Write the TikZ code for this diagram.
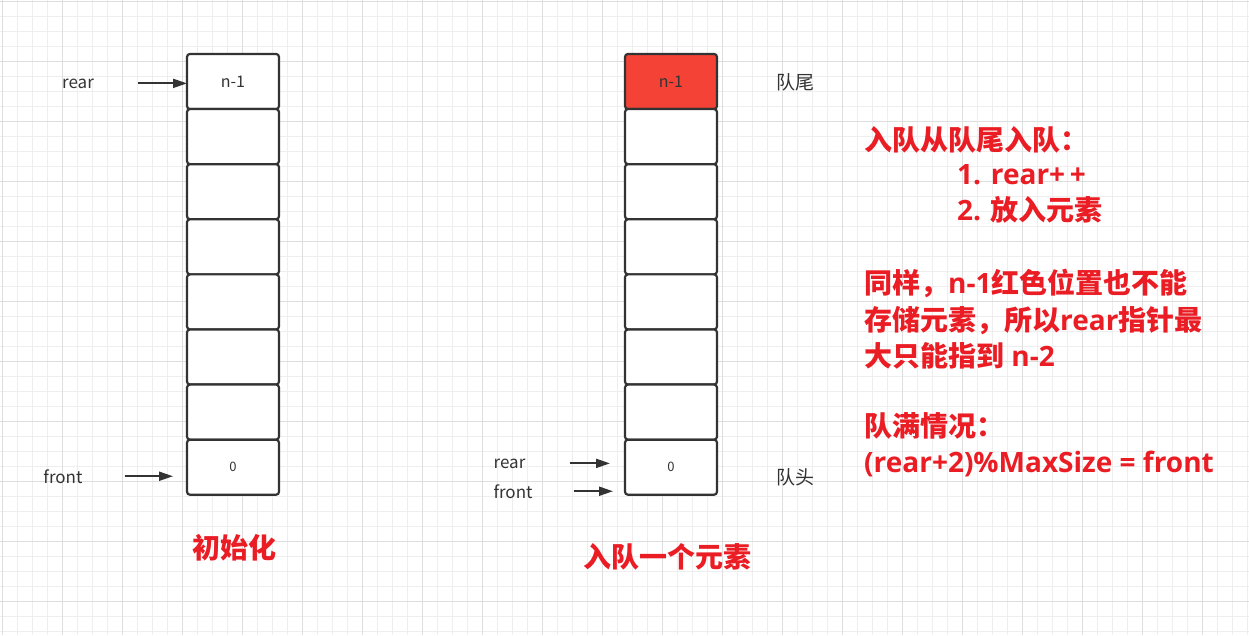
\documentclass[tikz,border=0pt]{standalone}
\usepackage{fontspec}
\setmainfont{Noto Sans CJK SC}
\newfontfamily\lat{Open Sans}
\usetikzlibrary{arrows.meta, positioning}
\definecolor{gridminor}{RGB}{238,238,238}
\definecolor{gridmajor}{RGB}{222,222,222}
\definecolor{cellline}{RGB}{51,51,51}
\definecolor{tailred}{RGB}{244,67,54}
\definecolor{notered}{RGB}{234,28,36}
\definecolor{labelgray}{RGB}{51,51,51}
\tikzset{
  cell/.style={rectangle, rounded corners=3pt, draw=cellline, line width=2.2pt, fill=white,
               minimum width=92pt, minimum height=55.1pt, outer sep=0pt, inner sep=0pt,
               text=labelgray, font=\fontsize{16}{19}\selectfont},
  ptr/.style={-{Triangle[length=14pt,width=9pt]}, line width=2pt, draw=cellline},
  lbl/.style={text=labelgray, font=\fontsize{17}{20}\selectfont, inner sep=0pt},
  side/.style={text=labelgray, font=\fontsize{19}{22}\selectfont, inner sep=0pt},
  caption/.style={text=notered, font=\fontsize{28}{32}\selectfont\bfseries, inner sep=0pt},
  note/.style={anchor=base west, text=notered, font=\fontsize{28}{32}\selectfont\bfseries, inner sep=0pt},
}

\begin{document}
\begin{tikzpicture}[x=1pt,y=-1pt]
\useasboundingbox (0,0) rectangle (1249,635);
% Hintergrundraster
\foreach \gx in {2.5,17.5,...,1249} \draw[gridminor, line width=0.8pt] (\gx,0) -- (\gx,635);
\foreach \gy in {1.7,16.7,...,635} \draw[gridminor, line width=0.8pt] (0,\gy) -- (1249,\gy);
\foreach \gx in {2.5,62.5,...,1249} \draw[gridmajor, line width=0.8pt] (\gx,0) -- (\gx,635);
\foreach \gy in {1.7,61.7,...,635} \draw[gridmajor, line width=0.8pt] (0,\gy) -- (1249,\gy);

% Initialisierung
\node[cell] (a0) at (233,81.5) {n-1};
\foreach \i [count=\j from 1] in {0,...,5} \node[cell, below=0pt of a\i] (a\j) {};
\node[cell, below=0pt of a6, font=\fontsize{13}{16}\selectfont] (a7) {0};
\node[lbl, anchor=base] (arear) at (78,88) {rear};
\node[lbl, anchor=base] (afront) at (63,483) {front};
\draw[ptr, shorten <=44pt] (arear.east) -- (arear.east -| a0.west);
\draw[ptr, shorten <=42pt, shorten >=14pt] (afront.east) -- (afront.east -| a7.west);
\node[caption] (cinit) at (234,547.5) {初始化};

% ein Element eingereiht
\node[cell, fill=tailred] (b0) at (671,81.5) {n-1};
\foreach \i [count=\j from 1] in {0,...,5} \node[cell, below=0pt of b\i] (b\j) {};
\node[cell, below=0pt of b6, font=\fontsize{13}{16}\selectfont] (b7) {0};
\node[lbl, anchor=base] (brear) at (509.5,468) {rear};
\node[lbl, anchor=base] (bfront) at (513,498) {front};
\draw[ptr, shorten <=44pt, shorten >=15pt] (brear.east) -- (brear.east -| b7.west);
\draw[ptr, shorten <=41pt, shorten >=12pt] (bfront.east) -- (bfront.east -| b7.west);
\node[side] (tail) at (795,82) {队尾};
\node[side] (head) at (795,477) {队头};
\node[caption] (cenq) at (667.5,556.5) {入队一个元素};

% Erlaeuterung
\node[note] (n1) at (864,150) {入队从队尾入队：};
\node[note] (n2) at (957,184) {\lat 1. rear+\,+};
\node[note] (n3) at (957,220) {{\lat 2. }放入元素};
\node[note] (n4) at (864,293) {同样，{\lat n-1}红色位置也不能};
\node[note] (n5) at (864,330) {存储元素，所以{\lat rear}指针最};
\node[note] (n6) at (864,366) {大只能指到{\lat\ n-2}};
\node[note] (n7) at (864,436) {队满情况：};
\node[note] (n8) at (864,472) {\lat (rear+2)\%MaxSize = front};
\end{tikzpicture}
\end{document}
